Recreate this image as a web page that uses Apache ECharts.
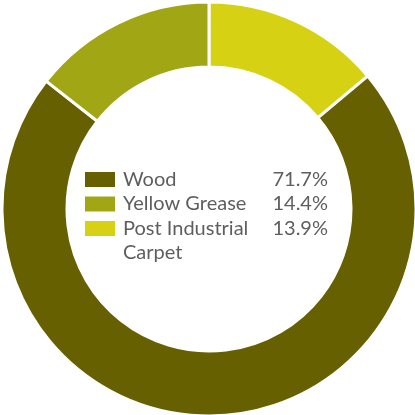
<!DOCTYPE html>
<html>
<head>
<meta charset="utf-8">
<script src="https://cdn.jsdelivr.net/npm/echarts@6/dist/echarts.min.js"></script>
<style>
  html, body { margin: 0; padding: 0; background: #ffffff; }
  #chart { width: 415px; height: 415px; }
</style>
</head>
<body>
<div id="chart"></div>
<script>
// Feedstock shares, listed clockwise from 12 o'clock
const sliceNames = ['Post Industrial Carpet', 'Wood', 'Yellow Grease'];
const sliceValues = [13.9, 71.7, 14.4];
const sliceColors = ['#d6d112', '#666000', '#a0a614'];

// Legend order and line breaks for the legend labels
const legendOrder = ['Wood', 'Yellow Grease', 'Post Industrial Carpet'];
const legendLines = {
  'Wood': ['Wood'],
  'Yellow Grease': ['Yellow Grease'],
  'Post Industrial Carpet': ['Post Industrial', 'Carpet']
};

const ROW = 24.5;
const FONT = 'Lato';
const TEXT_COLOR = '#5e5e5e';

const chart = echarts.init(document.getElementById('chart'));

const valueOf = name => sliceValues[sliceNames.indexOf(name)];

const legendData = legendOrder.map(name => {
  const lines = legendLines[name];
  const item = { name: name, icon: 'rect' };
  if (lines.length > 1) {
    // keep the first line beside the swatch; extra lines hang below it
    item.textStyle = { padding: [0, 0, -ROW * (lines.length - 1), 0] };
  }
  return item;
});

const runStyle = { fontFamily: FONT, fontSize: 20, color: TEXT_COLOR, lineHeight: ROW };

chart.setOption({
  animation: false,
  color: sliceColors,
  legend: {
    orient: 'vertical',
    left: 85,
    top: 172 - (ROW - 15) / 2,
    padding: 0,
    itemWidth: 30,
    itemHeight: 15,
    itemGap: 0,
    selectedMode: false,
    itemStyle: { borderWidth: 0 },
    data: legendData,
    formatter: function (name) {
      const lines = legendLines[name];
      const first = '{n|' + lines[0] + '}{v|' + valueOf(name).toFixed(1) + '%}';
      const rest = lines.slice(1).map(l => '{n|' + l + '}{v|}');
      return [first].concat(rest).join('\n');
    },
    textStyle: Object.assign({
      rich: {
        n: Object.assign({ width: 143, padding: [0, 0, 0, 3] }, runStyle),
        v: Object.assign({ width: 62, align: 'right' }, runStyle)
      }
    }, runStyle)
  },
  series: [{
    type: 'pie',
    center: [209, 209],
    radius: [142, 207],
    startAngle: 90,
    clockwise: true,
    label: { show: false },
    labelLine: { show: false },
    emphasis: { disabled: true },
    itemStyle: { borderColor: '#ffffff', borderWidth: 3 },
    data: sliceNames.map((n, i) => ({ name: n, value: sliceValues[i] }))
  }]
});
</script>
</body>
</html>
